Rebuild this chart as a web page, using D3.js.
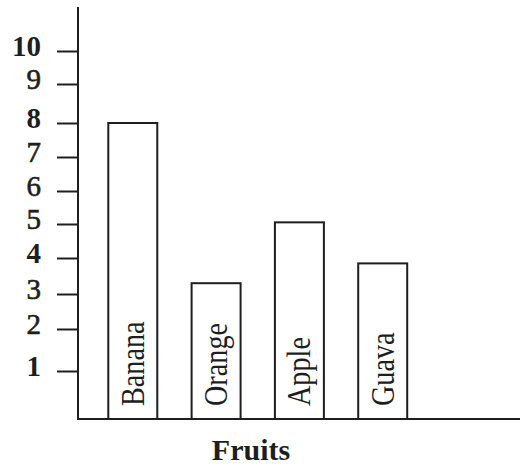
<!DOCTYPE html>
<html>
<head>
<meta charset="utf-8">
<script src="https://cdn.jsdelivr.net/npm/d3@7"></script>
<style>
  html, body { margin: 0; padding: 0; background: #fff; }
  svg { display: block; }
</style>
</head>
<body>
<svg id="chart" width="522" height="465"></svg>
<script>
// ---- data ----
const categories = ["Banana", "Orange", "Apple", "Guava"];
const values = [8, 3.3, 5.05, 3.85];
const tickValues = [1, 2, 3, 4, 5, 6, 7, 8, 9, 10];
const boldTicks = [1, 4, 8, 10];
const xTitle = "Fruits";

// ---- layout ----
const svg = d3.select("#chart");
const ink = "#1e1e1e";
const serif = "'Liberation Serif', 'Times New Roman', serif";
const axisX = 78, axisTop = 7, axisRight = 520;

// hand-drawn axis: tick spacing is uneven, so the scale is piecewise
const y = d3.scaleLinear()
  .domain([0, 1, 2, 3, 4, 5, 6, 7, 8, 9, 10])
  .range([419, 371, 329, 294, 258, 224, 191, 157, 123, 84, 51]);

const x = d3.scaleBand()
  .domain(categories)
  .range([83.3, 432.2])
  .paddingInner(0.412)
  .paddingOuter(0.3);

// bars
const bars = svg.append("g");
bars.selectAll("rect")
  .data(categories.map((c, i) => ({ c, v: values[i] })))
  .join("rect")
  .attr("x", d => x(d.c))
  .attr("y", d => y(d.v))
  .attr("width", x.bandwidth())
  .attr("height", d => y(0) - y(d.v))
  .attr("fill", "#fff")
  .attr("stroke", ink)
  .attr("stroke-width", 2);

// rotated labels inside bars
bars.selectAll("text")
  .data(categories)
  .join("text")
  .attr("transform", d => `translate(${x(d) + x.bandwidth() / 2 + 11},${y(0) - 13}) rotate(-90) scale(0.83,1)`)
  .attr("font-family", serif)
  .attr("font-size", 34)
  .attr("fill", ink)
  .text(d => d);

// y axis
const yAxis = d3.axisLeft(y)
  .tickValues(tickValues)
  .tickSize(21)
  .tickPadding(16)
  .tickFormat(d3.format("d"));
const gy = svg.append("g")
  .attr("transform", `translate(${axisX},0)`)
  .call(yAxis);
gy.select(".domain").remove();
gy.selectAll(".tick line").attr("stroke", ink).attr("stroke-width", 2);
gy.selectAll(".tick text")
  .attr("font-family", serif)
  .attr("font-size", 29)
  .attr("font-weight", d => boldTicks.includes(d) ? "bold" : "normal")
  .attr("fill", ink)
  .attr("stroke", ink)
  .attr("stroke-width", d => boldTicks.includes(d) ? 0 : 0.6)
  .attr("dy", "0.14em");

// axis lines
svg.append("line")
  .attr("x1", axisX).attr("x2", axisX)
  .attr("y1", axisTop).attr("y2", y(0) + 1)
  .attr("stroke", ink).attr("stroke-width", 2);
svg.append("line")
  .attr("x1", axisX).attr("x2", axisRight)
  .attr("y1", y(0)).attr("y2", y(0))
  .attr("stroke", ink).attr("stroke-width", 2);

// x title
svg.append("text")
  .attr("x", 251)
  .attr("y", 460)
  .attr("text-anchor", "middle")
  .attr("font-family", serif)
  .attr("font-size", 30)
  .attr("font-weight", "bold")
  .attr("fill", ink)
  .text(xTitle);
</script>
</body>
</html>
